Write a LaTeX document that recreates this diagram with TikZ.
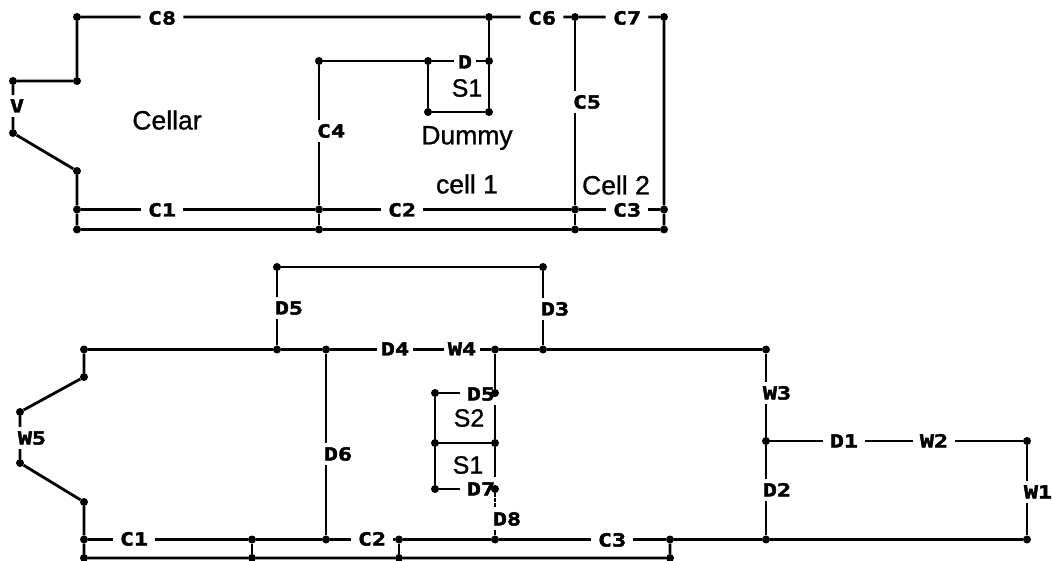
\documentclass[tikz,border=0pt]{standalone}
\usepackage{fontspec}
\setmainfont[FakeBold=1]{Liberation Sans}
\newfontfamily\labfont[FakeStretch=1.3,BoldFeatures={FakeBold=2.5}]{DejaVu Sans Mono}
\tikzset{
  wire/.style={line width=2.8pt,black},
  thinwire/.style={line width=2pt,black,dash pattern=on 4pt off 1pt},
  dot/.style={circle,fill=black,inner sep=0pt,minimum size=8pt},
  lab/.style={font=\labfont\bfseries\fontsize{18}{18}\selectfont,inner xsep=7pt,inner ysep=4.5pt,text height=13pt,text depth=0pt},
  txt/.style={font=\fontsize{26.5}{30}\selectfont,inner sep=0pt},
  stxt/.style={font=\fontsize{25}{30}\selectfont,inner sep=0pt}
}
\begin{document}
\begin{tikzpicture}[x=1pt,y=-1pt]
\useasboundingbox (0,0) rectangle (1055,561);
% upper figure: junctions
\foreach \n/\x/\y in {a1/77/17,a2/77/81,a3/13/81,a4/13/133,a5/77/171,a6/77/209.5,a7/77/229.5,
  a8/489/17,a9/575/17,a10/664/17,a11/319/61,a12/428/61,a13/489/61,a14/428/112,a15/489/112,
  a16/319/209.5,a17/319/229.5,a18/575/209.5,a19/575/229.5,a20/664/209.5,a21/664/229.5}
  {\node[dot] (\n) at (\x,\y) {};}
% upper figure: labels
\foreach \n/\x/\y/\t in {lc8/162/18/C8,lc6/542/18/C6,lc7/627/18/C7,lc1/162/210/C1,lc2/402/210/C2,
  lc3/627/210/C3,lc4/331/131/C4,lc5/587/102/C5}
  {\node[lab] (\n) at (\x,\y) {\t};}
\node[lab,inner xsep=4pt] (ld) at (465,62) {D};
\node[lab,inner xsep=1pt] (lv) at (17,106) {V};
\node[txt] (tcellar) at (167,120) {Cellar};
\node[stxt] (ts1a) at (467,88) {S1};
\node[txt] (tdummy) at (467,138) {Dummy};
\node[txt] (tcell1) at (467,184) {cell 1};
\node[txt] (tcell2) at (616,185) {Cell 2};
% upper figure: connectors
\draw[wire] (a1)--(lc8.west|-a1) (lc8.east|-a1)--(a8)--(lc6.west|-a8) (lc6.east|-a9)--(a9)--(lc7.west|-a9) (lc7.east|-a10)--(a10)--(a20)--(a21)--(a19)--(a17)--(a7)--(a6)--(a5)--(a4)--(a4|-lv.south) (a3|-lv.north)--(a3)--(a2)--(a1);
\draw[wire] (a6)--(lc1.west|-a6) (lc1.east|-a6)--(a16)--(lc2.west|-a16) (lc2.east|-a18)--(a18)--(lc3.west|-a18) (lc3.east|-a20)--(a20);
\draw[wire] (a17)--(a16)--(a16|-lc4.south) (a11|-lc4.north)--(a11)--(a12)--(ld.west|-a12) (ld.east|-a13)--(a13)--(a8);
\draw[wire] (a12)--(a14)--(a15)--(a13);
\draw[wire] (a9)--(a9|-lc5.north) (a18|-lc5.south)--(a18)--(a19);
% lower figure: junctions
\foreach \n/\x/\y in {b1/277/267,b2/543/267,b3/277/349.5,b4/543/349.5,b5/84/349.5,b6/84/377,b7/20/412,b8/20/463,
  b9/84/502,b10/84/539.5,b11/84/558,b12/252/539.5,b13/252/558,b14/326/349.5,b15/326/539.5,b16/495/349.5,
  b17/766/349.5,b18/766/441,b19/1027/441,b20/766/539.5,b21/1027/539.5,b22/435/393,b23/495/393,
  b24/435/443,b25/495/443,b26/435/489,b27/495/489,b28/495/539.5,b29/399/539.5,b30/399/558,b31/670/539.5,b32/670/558}
  {\node[dot] (\n) at (\x,\y) {};}
% lower figure: labels
\foreach \n/\x/\y/\t in {m1/289/308/D5,m2/555/309/D3,m5/32/438/W5,m6/338/454/D6,
  m7/134/539/C1,m8/372/539/C2,m9/612/540/C3,m10/777/393/W3,m11/844/441/D1,m12/934/441/W2,m13/1038/492/W1,
  m14/777/490/D2,m15/481/394/D5,m16/481/489/D7,m17/507/519/D8}
  {\node[lab] (\n) at (\x,\y) {\t};}
\node[lab,inner xsep=3.5pt] (m3) at (395,349) {D4};
\node[lab,inner xsep=3.5pt] (m4) at (462,349) {W4};
\coordinate (g1) at (495,405);
\coordinate (g2) at (495,477);
\coordinate (g3) at (495,508);
\node[stxt] (ts2) at (469,418) {S2};
\node[stxt] (ts1b) at (468,465) {S1};
% lower figure: connectors
\draw[wire] (b3)--(b3|-m1.south) (b1|-m1.north)--(b1)--(b2)--(b2|-m2.north) (b4|-m2.south)--(b4);
\draw[wire] (b5)--(b3)--(b14)--(m3.west|-b14) (m3.east|-b14)--(m4.west|-b14) (m4.east|-b16)--(b16)--(b4)--(b17)--(b17|-m10.north) (b18|-m10.south)--(b18)--(b18|-m14.north) (b20|-m14.south)--(b20)--(b21)--(b21|-m13.south) (b19|-m13.north)--(b19)--(m12.east|-b19) (m12.west|-b18)--(m11.east|-b18) (m11.west|-b18)--(b18);
\draw[wire] (b5)--(b6)--(b7)--(b7|-m5.north) (b8|-m5.south)--(b8)--(b9)--(b10)--(b11)--(b13)--(b30)--(b32)--(b31);
\draw[wire] (b10)--(m7.west|-b10) (m7.east|-b12)--(b12)--(b15)--(m8.west|-b15) (m8.east|-b29)--(b29)--(b28)--(m9.west|-b28) (m9.east|-b31)--(b31)--(b20);
\draw[wire] (b12)--(b13);
\draw[wire] (b29)--(b30);
\draw[wire] (b14)--(b14|-m6.north) (b15|-m6.south)--(b15);
\draw[wire] (b16)--(b23) (g1)--(b25)--(g2);
\draw[thinwire] (b27)--(g3);
\draw[wire] (b28|-m17.south)--(b28);
\draw[wire] (b22)--(m15.west|-b22);
\draw[wire] (b22)--(b24)--(b26)--(m16.west|-b26);
\draw[wire] (b24)--(b25);
\end{tikzpicture}
\end{document}
